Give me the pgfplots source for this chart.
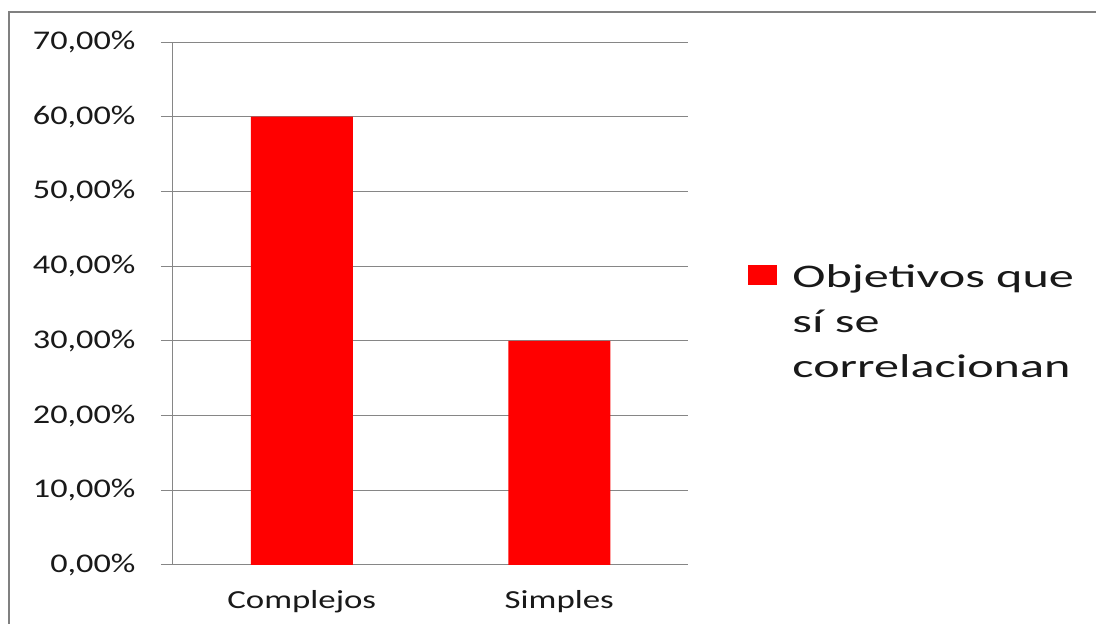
\documentclass[border=0pt]{standalone}
\usepackage{pgfplots}
\pgfplotsset{compat=1.18}
\usepackage{fontspec}
\setmainfont{Carlito}
\newfontfamily\ylabfont{Carlito}[FakeStretch=1.27]
\newfontfamily\xlabfont{Carlito}[FakeStretch=1.34]
\newfontfamily\legfont{Carlito}[FakeStretch=1.52]
\definecolor{gridgray}{RGB}{134,134,134}
\definecolor{framegray}{RGB}{128,128,128}
\definecolor{txt}{RGB}{25,25,25}
\begin{document}
\begin{tikzpicture}
\path[use as bounding box] (0pt,0pt) rectangle (1096pt,624pt);
\draw[framegray, line width=2.5pt] (9pt,0pt) -- (9pt,612pt) -- (1096pt,612pt);
\begin{axis}[
  at={(173pt,59pt)}, anchor=south west,
  scale only axis, width=515pt, height=523pt,
  xmin=-0.5, xmax=1.5, ymin=0, ymax=70,
  axis x line*=bottom, axis y line*=left,
  axis line style={gridgray, line width=1pt},
  ytick={0,10,...,70},
  yticklabel={\pgfmathprintnumber[fixed,fixed zerofill,precision=2,use comma]{\tick}\%},
  /pgf/number format/assume math mode=true,
  yticklabel style={font=\ylabfont\fontsize{27}{27}\selectfont, text=txt, xshift=-22pt},
  major tick length=12pt,
  y tick style={gridgray, line width=1pt},
  tick align=outside,
  ymajorgrids, grid style={gridgray, line width=1pt},
  xtick={0,1}, xticklabels={Complejos,Simples},
  x tick style={draw=none},
  xticklabel style={font=\xlabfont\fontsize{26}{26}\selectfont, text=txt, yshift=-10pt},
  extra x ticks={-0.5,0.5,1.5}, extra x tick labels={},
  extra x tick style={grid=none, major tick length=8pt, tick style={draw=gridgray, line width=1pt}},
  legend style={at={(1.117,0.465)}, anchor=west, draw=none, fill=none,
    font=\legfont\fontsize{33}{45}\selectfont, text=txt,
    cells={align=left}, inner sep=0pt, column sep=13pt},
  legend image code/.code={\fill[red] (0pt,37pt) rectangle (29pt,57pt);},
]
\addplot[ybar, bar width=102pt, fill=red, draw=none] coordinates {(0,60) (1,30)};
\addlegendentry{Objetivos que\\sí se\\correlacionan}
\end{axis}
\end{tikzpicture}
\end{document}
